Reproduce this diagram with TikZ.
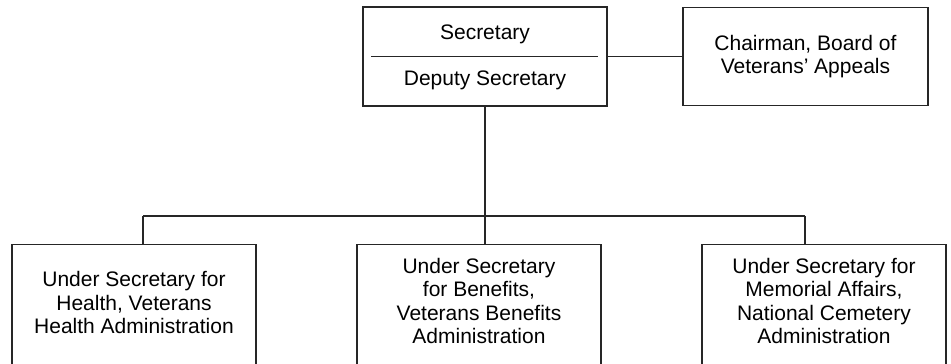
\documentclass[tikz,border=0pt]{standalone}
\usepackage{fontspec}
\setmainfont{Liberation Sans}

\tikzset{every picture/.style={line width=1.3pt}}
\tikzset{
  orgtext/.style={font=\fontsize{21}{23.5}\selectfont},
  orgbox/.style={draw=black!85, orgtext, inner sep=0pt, align=center},
  underbox/.style={orgbox, anchor=north, minimum width=244, inner ysep=14, text height=85, text depth=130},
  link/.style={draw=black!85}
}

\begin{document}
\begin{tikzpicture}[x=1pt,y=1pt,yscale=-1,xscale=1]
  %set diagram to 951 x 364
  \clip (0,0) rectangle (951,364);

  %Shape: Rectangle [Secretary / Deputy]
  \node [orgbox, minimum width=244, minimum height=99] (sec) at (485,56.5) {};
  % Text Node
  \node [orgtext, anchor=base, inner sep=0pt] (secy) at (485,39.5) {Secretary};
  % Text Node
  \node [orgtext, anchor=base, inner sep=0pt] (dep) at (485,85.5) {Deputy Secretary};
  %Straight Lines [divider]
  \draw [link] ([xshift=9]sec.west) -- ([xshift=-10]sec.east);

  %Shape: Rectangle [Chairman]
  \node [orgbox, minimum width=245, minimum height=98] (chair) at (805.5,56.5) {Chairman, Board of\\Veterans' Appeals};
  \draw [link] (sec.east) -- (chair.west);

  %Shape: Rectangle [Under Secretaries]
  \node [underbox, text height=75] (hs) at (134,244) {Under Secretary for\\Health, Veterans\\Health Administration};
  \node [underbox] (bs) at (479,244) {Under Secretary\\for Benefits,\\Veterans Benefits\\Administration};
  \node [underbox] (ms) at (824,244) {Under Secretary for\\Memorial Affairs,\\National Cemetery\\Administration};

  %Straight Lines [bus]
  \coordinate (busL) at (143,216);
  \coordinate (busR) at (805,216);
  \draw [link] (sec.south) -- (sec.south |- busL);
  \draw [link] (busL) -- (busR);
  \draw [link] (busL) -- (busL |- hs.north);
  \draw [link] (sec.south |- busL) -- (sec.south |- bs.north);
  \draw [link] (busR) -- (busR |- ms.north);

\end{tikzpicture}
\end{document}
